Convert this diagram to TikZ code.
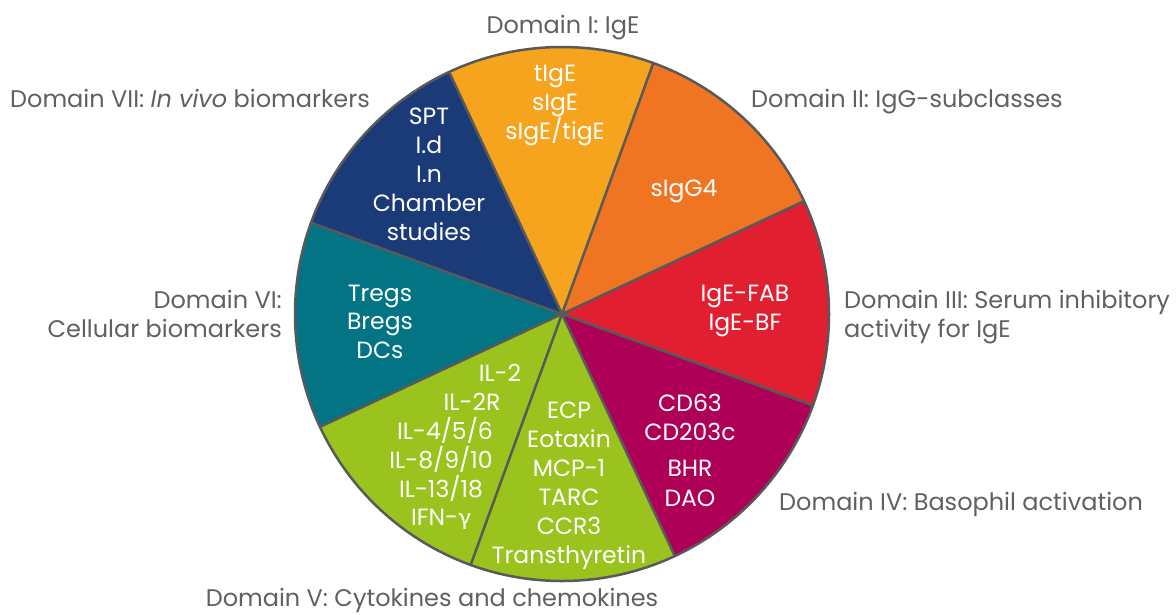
\documentclass[tikz,border=0pt]{standalone}
\usepackage{fontspec}
\setmainfont{Poppins}
\newfontfamily\greekfont{Lato}
\definecolor{cI}{HTML}{F6A31E}
\definecolor{cII}{HTML}{F07523}
\definecolor{cIII}{HTML}{E11F31}
\definecolor{cIV}{HTML}{AE0057}
\definecolor{cV}{HTML}{9BC31E}
\definecolor{cVI}{HTML}{027483}
\definecolor{cVII}{HTML}{1B3A78}
\definecolor{edge}{HTML}{58595B}
\definecolor{lbl}{HTML}{606060}
\tikzset{
  dom/.style={text=lbl, inner sep=0pt, font=\fontsize{24}{29}\selectfont},
  inlbl/.style={text=white, inner sep=0pt, anchor=base, font=\fontsize{23.5}{29}\selectfont},
  sep/.style={draw=edge, line width=2.5pt},
}
\begin{document}
\begin{tikzpicture}[x=1pt,y=-1pt]
\useasboundingbox (0,0) rectangle (1176,614);
\coordinate (C) at (562,314);
% sectors
\foreach \a/\col in {25/cII,70/cI,115/cVII,160/cVI,205/cV,250/cV,295/cIV,340/cIII}{
  \fill[\col] (C) -- ++(\a:267pt) arc[start angle=\a, delta angle=45, radius=267pt] -- cycle;
}
\foreach \a in {25,70,115,160,205,250,295,340}{
  \draw[sep] (C) -- ++(\a:267pt);
}
\draw[draw=edge, line width=2.5pt] (C) circle[radius=267pt];
% domain labels
\node[dom, anchor=base] (dI) at (563,33) {Domain I: IgE};
\node[dom, anchor=base west] (dII) at (751,107) {Domain II: IgG-subclasses};
\node[dom, anchor=base west] (dIIIa) at (844,308) {Domain III: Serum inhibitory};
\node[dom, anchor=base west] (dIIIb) at (844,337) {activity for IgE};
\node[dom, anchor=base west] (dIV) at (779,510) {Domain IV: Basophil activation};
\node[dom, anchor=base] (dV) at (432,606) {Domain V: Cytokines and chemokines};
\node[dom, anchor=base east] (dVIa) at (282,308) {Domain VI:};
\node[dom, anchor=base east] (dVIb) at (282,337) {Cellular biomarkers};
\node[dom, anchor=base west] (dVII) at (10,107) {Domain VII: \textit{In vivo} biomarkers};
% inner labels
\foreach \t [count=\i] in {tIgE,sIgE,sIgE/tigE}
  \node[inlbl] (i\i) at (555,{81+29*(\i-1)}) {\t};
\foreach \t [count=\i] in {SPT,I.d,I.n,Chamber,studies}
  \node[inlbl] (vii\i) at (429,{124+29*(\i-1)}) {\t};
\node[inlbl] (ii1) at (684,196) {sIgG4};
\foreach \t [count=\i] in {IgE-FAB,IgE-BF}
  \node[inlbl] (iii\i) at (745,{301+29*(\i-1)}) {\t};
\foreach \t [count=\i] in {Tregs,Bregs,DCs}
  \node[inlbl] (vi\i) at (380,{301+28.5*(\i-1)}) {\t};
\node[inlbl] (va1) at (500,381) {IL-2};
\node[inlbl] (va2) at (472,410) {IL-2R};
\node[inlbl] (va3) at (445,439) {IL-4/5/6};
\node[inlbl] (va4) at (441,468) {IL-8/9/10};
\node[inlbl] (va5) at (441,497) {IL-13/18};
\node[inlbl] (va6) at (441,525) {IFN-{\greekfont γ}};
\foreach \t [count=\i] in {ECP,Eotaxin,MCP-1,TARC,CCR3,Transthyretin}
  \node[inlbl] (vb\i) at (569,{418+29*(\i-1)}) {\t};
\node[inlbl] (iv1) at (690,411) {CD63};
\node[inlbl] (iv2) at (690,440) {CD203c};
\node[inlbl] (iv3) at (690,476) {BHR};
\node[inlbl] (iv4) at (690,506) {DAO};
\end{tikzpicture}
\end{document}
